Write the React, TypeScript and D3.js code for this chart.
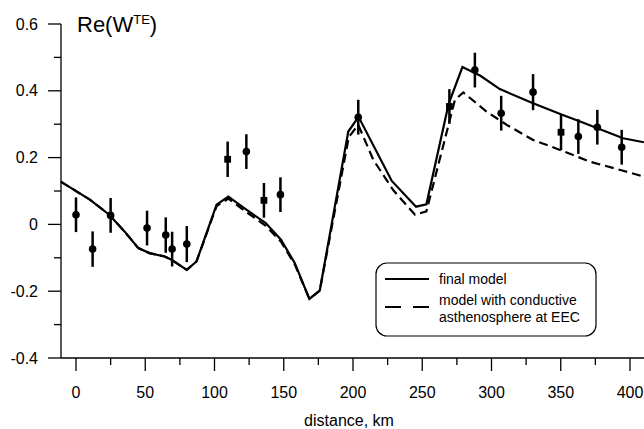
import React from "react";
import * as d3 from "d3";

const finalX = [-11, 10, 24, 35, 45, 53, 64, 69, 80, 87, 101.5, 110, 123, 137, 148, 158, 168.5, 176, 196.6, 204, 228, 245.5, 253, 269, 279, 292, 306, 330, 351, 364, 395, 410];
const finalY = [0.128, 0.074, 0.029, -0.021, -0.071, -0.086, -0.096, -0.106, -0.136, -0.111, 0.059, 0.083, 0.044, 0.004, -0.046, -0.116, -0.223, -0.198, 0.278, 0.322, 0.13, 0.053, 0.06, 0.36, 0.471, 0.445, 0.405, 0.363, 0.328, 0.308, 0.258, 0.246];

const condX = [-11, 10, 24, 35, 45, 53, 64, 69, 80, 87, 101.5, 110, 123, 137, 148, 158, 168.5, 176, 197, 203.8, 214.7, 229, 244.8, 253, 273.6, 279.6, 296.4, 311, 330, 349.5, 371, 393, 410];
const condY = [0.128, 0.074, 0.029, -0.021, -0.071, -0.086, -0.096, -0.106, -0.136, -0.111, 0.055, 0.077, 0.037, -0.004, -0.052, -0.12, -0.223, -0.198, 0.262, 0.298, 0.193, 0.103, 0.029, 0.039, 0.373, 0.395, 0.338, 0.298, 0.253, 0.223, 0.188, 0.163, 0.143];

const obsX = [0, 12, 25, 51.3, 64.8, 69.4, 80, 109.5, 123, 135.7, 147.6, 203.8, 269.6, 288, 307, 330, 350.2, 362.7, 376.4, 394];
const obsY = [0.029, -0.074, 0.027, -0.011, -0.032, -0.074, -0.059, 0.195, 0.218, 0.072, 0.089, 0.321, 0.353, 0.462, 0.333, 0.396, 0.276, 0.263, 0.291, 0.231];
const obsErr = [0.052, 0.053, 0.052, 0.052, 0.053, 0.052, 0.054, 0.053, 0.052, 0.052, 0.052, 0.052, 0.052, 0.052, 0.052, 0.054, 0.054, 0.052, 0.052, 0.052];
const obsShape = ["c", "c", "c", "c", "c", "c", "c", "s", "c", "s", "c", "c", "s", "c", "c", "c", "s", "c", "c", "c"];

const xMajor = [0, 50, 100, 150, 200, 250, 300, 350, 400];
const xMinor = [25, 75, 125, 175, 225, 275, 325, 375];
const yMajor = [-0.4, -0.2, 0, 0.2, 0.4, 0.6];
const yMinor = [-0.3, -0.1, 0.1, 0.3, 0.5];

const legendLabels = ["final model", "model with conductive", "asthenosphere at EEC"];

const FONT = "'Liberation Sans', Arial, Helvetica, sans-serif";

export default function App() {
  const W = 644, H = 429;
  const x = d3.scaleLinear().domain([0, 400]).range([76, 630]);
  const y = d3.scaleLinear().domain([-0.4, 0.6]).range([358, 24]);
  const xLeft = x.invert(61);
  const xRight = x.invert(644);

  const line = d3.line<[number, number]>().x(d => x(d[0])).y(d => y(d[1]));
  const finalPath = line(finalX.map((v, i) => [v, finalY[i]] as [number, number])) || "";
  const condPath = line(condX.map((v, i) => [v, condY[i]] as [number, number])) || "";

  const y0 = y(-0.4);
  const yTop = y(0.6);

  return (
    <svg width={W} height={H} style={{ position: "absolute", left: 0, top: 0, background: "#fff" }} fontFamily={FONT}>
      <rect x={0} y={0} width={W} height={H} fill="#fff" />
      {/* axes */}
      <line x1={x(xLeft)} x2={x(xRight)} y1={y0} y2={y0} stroke="#000" strokeWidth={1.3} />
      <line x1={x(xLeft)} x2={x(xLeft)} y1={yTop} y2={y0} stroke="#000" strokeWidth={1.3} />
      {xMajor.map(t => (
        <g key={"xm" + t}>
          <line x1={x(t)} x2={x(t)} y1={y0} y2={y0 + 13} stroke="#000" strokeWidth={1.3} />
          <text x={x(t)} y={y0 + 39.5} textAnchor="middle" fontSize={16} fill="#000">{t}</text>
        </g>
      ))}
      {xMinor.map(t => (
        <line key={"xn" + t} x1={x(t)} x2={x(t)} y1={y0} y2={y0 + 7} stroke="#000" strokeWidth={1.3} />
      ))}
      {yMajor.map(t => (
        <g key={"ym" + t}>
          <line x1={x(xLeft) - 13} x2={x(xLeft)} y1={y(t)} y2={y(t)} stroke="#000" strokeWidth={1.3} />
          <text x={38} y={y(t) + 5.5} textAnchor="end" fontSize={16} fill="#000">{d3.format(".1f")(t).replace("−", "-").replace("0.0", "0")}</text>
        </g>
      ))}
      {yMinor.map(t => (
        <line key={"yn" + t} x1={x(xLeft) - 7} x2={x(xLeft)} y1={y(t)} y2={y(t)} stroke="#000" strokeWidth={1.3} />
      ))}
      <text x={349} y={426} textAnchor="middle" fontSize={16} fill="#000">distance, km</text>
      <text x={77} y={32} fontSize={22} fill="#000">
        Re(W<tspan fontSize={13} dy={-8}>TE</tspan><tspan dy={8}>)</tspan>
      </text>

      {/* model curves */}
      <path d={condPath} fill="none" stroke="#000" strokeWidth={2.2} strokeDasharray="9,5" />
      <path d={finalPath} fill="none" stroke="#000" strokeWidth={2.2} strokeLinejoin="miter" />

      {/* observations */}
      {obsX.map((v, i) => (
        <g key={"o" + i}>
          <line x1={x(v)} x2={x(v)} y1={y(obsY[i] - obsErr[i])} y2={y(obsY[i] + obsErr[i])} stroke="#000" strokeWidth={2.5} />
          {obsShape[i] === "s" ? (
            <rect x={x(v) - 3.4} y={y(obsY[i]) - 3.4} width={6.8} height={6.8} fill="#000" />
          ) : (
            <circle cx={x(v)} cy={y(obsY[i])} r={3.8} fill="#000" />
          )}
        </g>
      ))}

      {/* legend */}
      <rect x={376} y={263} width={220} height={73} rx={11} ry={11} fill="#fff" stroke="#000" strokeWidth={1.2} />
      <line x1={385} x2={429} y1={279} y2={279} stroke="#000" strokeWidth={2.2} />
      <line x1={385} x2={429} y1={307} y2={307} stroke="#000" strokeWidth={2.2} strokeDasharray="16,12" />
      <text x={439} y={284} fontSize={14} fill="#000">{legendLabels[0]}</text>
      <text x={439} y={305} fontSize={14} fill="#000">{legendLabels[1]}</text>
      <text x={439} y={322} fontSize={14} fill="#000">{legendLabels[2]}</text>
    </svg>
  );
}
